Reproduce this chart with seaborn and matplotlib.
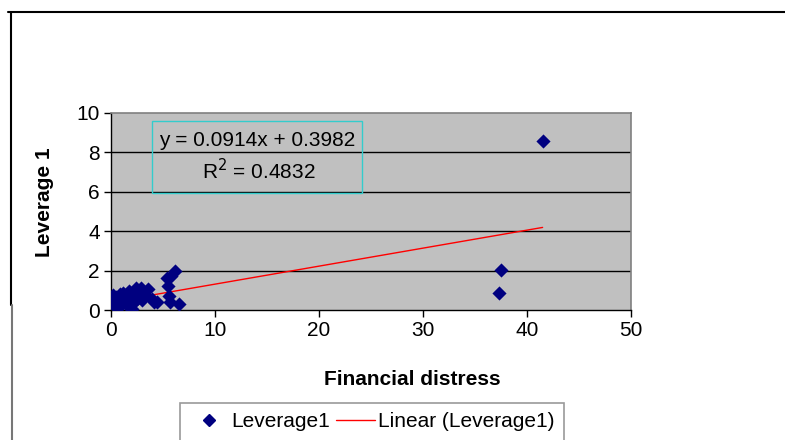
import matplotlib
matplotlib.use("Agg")
import matplotlib.pyplot as plt
from matplotlib.lines import Line2D
from matplotlib.patches import Rectangle
import seaborn as sns
import pandas as pd
import numpy as np

# Financial distress score vs. leverage for each firm
distress = [0.0, 0.1, 0.1, 0.2, 0.2, 0.3, 0.4, 0.5, 0.5, 0.6, 0.7, 0.8, 0.9, 1.0,
            1.1, 1.2, 1.3, 1.5, 1.6, 1.7, 1.8, 2.0, 2.1, 2.2, 2.4, 2.5, 2.7, 2.9,
            3.0, 3.3, 3.6, 3.9, 4.1, 4.4, 5.4, 5.5, 5.6, 5.7, 5.8, 6.2, 6.5,
            37.3, 37.5, 41.5]
leverage = [0.55, 0.65, 0.35, 0.45, 0.75, 0.25, 0.55, 0.65, 0.15, 0.4, 0.1, 0.5, 0.8, 0.3,
            0.6, 0.85, 0.45, 0.7, 0.2, 0.95, 0.5, 0.05, 0.35, 0.75, 1.1, 0.55, 0.9, 1.1,
            0.5, 0.75, 1.05, 0.55, 0.4, 0.4, 1.6, 1.2, 0.7, 0.4, 1.75, 2.0, 0.3,
            0.85, 2.05, 8.6]

# Linear trendline coefficients
slope = 0.0914
intercept = 0.3982
r_squared = 0.4832

x_ticks = [0, 10, 20, 30, 40, 50]
y_ticks = [0, 2, 4, 6, 8, 10]

df = pd.DataFrame({"Financial distress": distress, "Leverage1": leverage})

sns.set_theme(style="white")
plt.rcParams["font.family"] = ["Liberation Sans", "DejaVu Sans"]
plt.rcParams["text.color"] = "black"
plt.rcParams["xtick.color"] = "black"
plt.rcParams["ytick.color"] = "black"

FS = 15

fig = plt.figure(figsize=(7.85, 4.4), dpi=100)
ax = fig.add_axes([111 / 785, 1 - 310 / 440, 520 / 785, 197 / 440])
ax.set_facecolor("#C0C0C0")

# horizontal gridlines
for yv in y_ticks[1:-1]:
    ax.axhline(yv, color="black", lw=1.0, zorder=1)

# trendline drawn across the observed x range
xl = np.array([min(distress), max(distress)])
ax.plot(xl, intercept + slope * xl, color="red", lw=1.0, zorder=2)

sns.scatterplot(data=df, x="Financial distress", y="Leverage1", marker="D",
                s=52, color="#000080", edgecolor="#000080", linewidth=0,
                ax=ax, zorder=3, legend=False)

ax.set_xlim(0, 50)
ax.set_ylim(0, 10)
ax.set_xticks(x_ticks)
ax.set_yticks(y_ticks)
ax.tick_params(axis="both", direction="out", length=5, width=1, color="black",
               labelcolor="black", labelsize=FS, left=True, bottom=True, pad=3)
ax.set_xlabel("")
ax.set_ylabel("")
for side in ["left", "bottom"]:
    ax.spines[side].set_color("black")
    ax.spines[side].set_linewidth(1.0)
for side in ["top", "right"]:
    ax.spines[side].set_color("#808080")
    ax.spines[side].set_linewidth(1.2)

# equation box
eq_box = Rectangle((152 / 785, 1 - 193 / 440), 210 / 785, 72 / 440,
                   transform=fig.transFigure, fill=False, edgecolor="#33CCCC", lw=1.0)
fig.add_artist(eq_box)
fig.text(257 / 785, 1 - 141 / 440, f"y = {slope}x + {intercept}", ha="center",
         va="center", fontsize=FS)
fig.text(259 / 785, 1 - 171 / 440, f"R$^2$ = {r_squared}", ha="center",
         va="center", fontsize=FS)

# axis titles
fig.text(412 / 785, 1 - 379 / 440, "Financial distress", ha="center", va="center",
         fontsize=FS, fontweight="bold")
fig.text(44 / 785, 1 - 202 / 440, "Leverage 1", ha="center", va="center",
         fontsize=FS, fontweight="bold", rotation=90)

# chart frame
fig.add_artist(Line2D([8 / 785, 1], [1 - 12 / 440] * 2, transform=fig.transFigure,
                      color="black", lw=1.5))
fig.add_artist(Line2D([11 / 785] * 2, [1 - 12 / 440, 1 - 305 / 440],
                      transform=fig.transFigure, color="black", lw=1.5))
fig.add_artist(Line2D([12 / 785] * 2, [1 - 305 / 440, 0],
                      transform=fig.transFigure, color="#777777", lw=1.5))

# legend
handles = [Line2D([], [], marker="D", color="#000080", linestyle="none", markersize=6),
           Line2D([], [], color="red", lw=1.0)]
leg = fig.legend(handles, ["Leverage1", "Linear (Leverage1)"], ncol=2,
                 loc="upper left", bbox_to_anchor=(180 / 785, 1 - 403 / 440),
                 fontsize=FS, frameon=True, fancybox=False, borderpad=0.45,
                 handlelength=1.85, handletextpad=0.15, columnspacing=0.3,
                 borderaxespad=0)
leg.get_frame().set_edgecolor("#808080")
leg.get_frame().set_linewidth(1.2)

fig.savefig("out.png", dpi=100)
